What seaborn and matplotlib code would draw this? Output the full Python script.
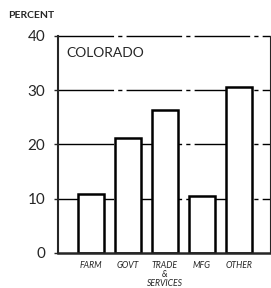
import pandas as pd
import seaborn as sns
import matplotlib.pyplot as plt

# values (percent)
sectors = ['FARM', 'GOVT', 'TRADE\n&\nSERVICES', 'MFG', 'OTHER']
percent = [10.9, 21.2, 26.4, 10.5, 30.6]
yticks = [0, 10, 20, 30, 40]

df = pd.DataFrame({'sector': sectors, 'percent': percent})

sns.set_style('white')
plt.rcParams['font.family'] = ['Lato', 'DejaVu Sans']

fig = plt.figure(figsize=(2.71, 2.88), dpi=100)
ax = fig.add_axes([0.214, 0.122, 0.783, 0.753])

# gridlines behind the white bars
for v in yticks[1:]:
    ax.axhline(v, color='black', lw=1.0, ls=(0, (40, 3, 3, 3)), zorder=0,
               clip_on=False)

sns.barplot(data=df, x='sector', y='percent', color='white', edgecolor='black',
            linewidth=1.8, width=0.68, ax=ax, zorder=2)

ax.set_xlim(-0.89, 4.84)
ax.set_ylim(0, 40)
ax.set_yticks(yticks)
ax.set_yticklabels([str(v) for v in yticks], fontsize=11)
ax.tick_params(axis='y', length=3, width=1, pad=6, direction='out', left=True)
ax.tick_params(axis='x', length=0, pad=6)
for lbl in ax.get_xticklabels():
    lbl.set_fontsize(6.2)
    lbl.set_style('italic')
    lbl.set_linespacing(1.0)
    lbl.set_verticalalignment('top')
ax.set_xlabel('')
ax.set_ylabel('')

ax.spines['left'].set_linewidth(1.5)
ax.spines['bottom'].set_linewidth(1.8)
ax.spines['top'].set_visible(False)
ax.spines['right'].set_linewidth(0.8)

ax.text(0.04, 0.92, 'COLORADO', transform=ax.transAxes, fontsize=10,
        ha='left', va='center')
fig.text(0.03, 0.945, 'PERCENT', fontsize=7.5, fontweight='bold',
         ha='left', va='center')

fig.savefig('out.png', dpi=100)
